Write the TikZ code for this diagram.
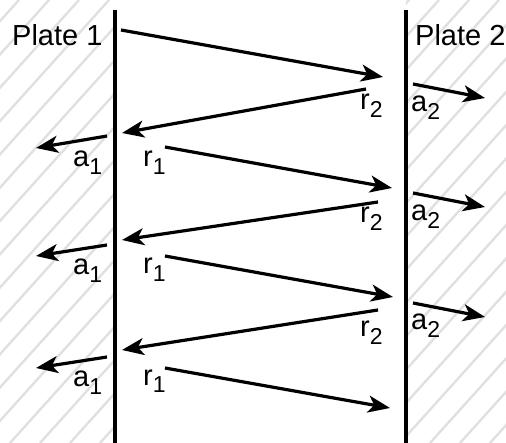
\documentclass[tikz,border=0pt]{standalone}
\usepackage{fontspec}
\setmainfont{Liberation Sans}
\usetikzlibrary{arrows.meta}
\tikzset{
 pl wall/.style={line width=3.2pt},
 pl hatch/.style={line width=2.4pt,black!12},
 pl ray/.style={line width=3.2pt,-{Stealth[length=22pt,width=17pt,inset=6pt]}},
 pl label/.style={font=\fontsize{29}{29}\selectfont,inner sep=0pt,anchor=base west}
}
\newcommand{\plsub}[1]{\raisebox{-8pt}{\fontsize{23}{23}\selectfont #1}}

\begin{document}
\begin{tikzpicture}[x=1pt,y=-1pt]
 \useasboundingbox (0,0) rectangle (506,443);
 % hatching behind both plates
 \begin{scope}
  \clip (0,0) rectangle (115,443) (406,0) rectangle (506,443);
  \foreach \k in {-14,...,17}
   \draw[pl hatch] ({\k*30+10},443) -- ({\k*30+409},0);
 \end{scope}

 \coordinate (p1 top) at (115,10);
 \coordinate (p1 bot) at (115,443);
 \coordinate (p2 top) at (406,10);
 \coordinate (p2 bot) at (406,443);
 \draw[pl wall] (p1 top) -- (p1 bot);
 \draw[pl wall] (p2 top) -- (p2 bot);

 \node[pl label] (plate1) at (12,46) {Plate 1};
 \node[pl label] (plate2) at (415,46) {Plate 2};

 % incoming and reflected rays
 \coordinate (in s) at (121,30);   \coordinate (in e) at (383,77);
 \coordinate (r2a s) at (366,89);  \coordinate (r2a e) at (122,133);
 \coordinate (r1a s) at (165,147); \coordinate (r1a e) at (392,188);
 \coordinate (r2b s) at (378,202); \coordinate (r2b e) at (122,240);
 \coordinate (r1b s) at (165,256); \coordinate (r1b e) at (393,297);
 \coordinate (r2c s) at (378,310); \coordinate (r2c e) at (122,350);
 \coordinate (r1c s) at (165,368); \coordinate (r1c e) at (390,408);
 % absorbed rays
 \coordinate (a1a s) at (107,136); \coordinate (a1a e) at (36,148);
 \coordinate (a1b s) at (107,245); \coordinate (a1b e) at (36,256);
 \coordinate (a1c s) at (107,357); \coordinate (a1c e) at (36,368);
 \coordinate (a2a s) at (413,84);  \coordinate (a2a e) at (485,98);
 \coordinate (a2b s) at (413,193); \coordinate (a2b e) at (485,207);
 \coordinate (a2c s) at (413,303); \coordinate (a2c e) at (485,317);

 \foreach \r in {in,r2a,r1a,r2b,r1b,r2c,r1c,a1a,a1b,a1c,a2a,a2b,a2c}
  \draw[pl ray] (\r\space s) -- (\r\space e);

 \node[pl label] (a1 lab1) at (73,167) {a\plsub{1}};
 \node[pl label] (a1 lab2) at (73,275) {a\plsub{1}};
 \node[pl label] (a1 lab3) at (73,387) {a\plsub{1}};
 \node[pl label] (r1 lab1) at (143,167) {r\plsub{1}};
 \node[pl label] (r1 lab2) at (143,274) {r\plsub{1}};
 \node[pl label] (r1 lab3) at (143,385) {r\plsub{1}};
 \node[pl label] (r2 lab1) at (360,110) {r\plsub{2}};
 \node[pl label] (r2 lab2) at (360,223) {r\plsub{2}};
 \node[pl label] (r2 lab3) at (360,337) {r\plsub{2}};
 \node[pl label] (a2 lab1) at (411,112) {a\plsub{2}};
 \node[pl label] (a2 lab2) at (411,221) {a\plsub{2}};
 \node[pl label] (a2 lab3) at (411,330) {a\plsub{2}};
\end{tikzpicture}
\end{document}
